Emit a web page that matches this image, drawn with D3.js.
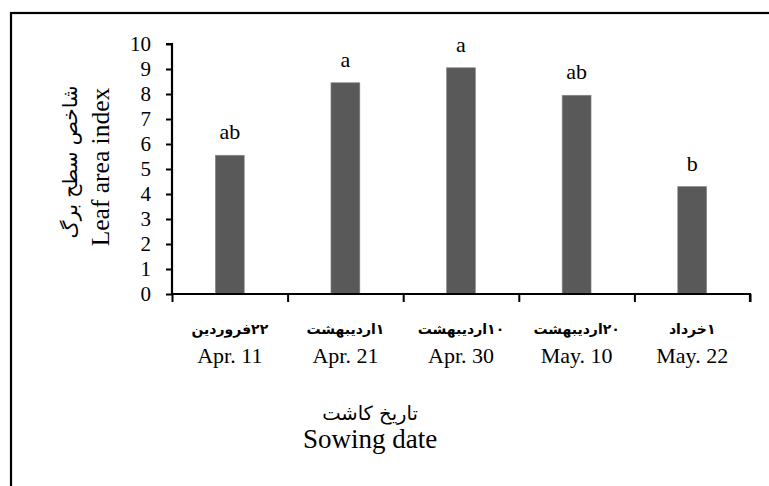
<!DOCTYPE html>
<html>
<head>
<meta charset="utf-8">
<script src="https://cdn.jsdelivr.net/npm/d3@7"></script>
<style>
  html, body { margin: 0; padding: 0; background: #fff; }
  svg { display: block; }
</style>
</head>
<body>
<svg id="chart" width="769" height="486"></svg>
<script>
// ---- data ----
const categoriesFa = ["۲۲فروردین", "۱اردیبهشت", "۱۰اردیبهشت", "۲۰اردیبهشت", "۱خرداد"];
const categoriesEn = ["Apr. 11", "Apr. 21", "Apr. 30", "May. 10", "May. 22"];
const values = [5.55, 8.45, 9.05, 7.95, 4.3];
const letters = ["ab", "a", "a", "ab", "b"];
const yTicks = [0, 1, 2, 3, 4, 5, 6, 7, 8, 9, 10];
const yTitleFa = "شاخص سطح برگ";
const yTitleEn = "Leaf area index";
const xTitleFa = "تاریخ کاشت";
const xTitleEn = "Sowing date";

(function () {
const svg = d3.select("#chart");
const serif = "'Liberation Serif', 'Times New Roman', serif";
const faFont = "'DejaVu Sans', sans-serif";

// frame
svg.append("rect")
  .attr("x", 11).attr("y", 13).attr("width", 800).attr("height", 520)
  .attr("fill", "none").attr("stroke", "#000").attr("stroke-width", 2.2);

const pLeft = 172, pRight = 750, pTop = 44, pBottom = 294;

const x = d3.scaleBand().domain(categoriesEn).range([pLeft, pRight])
  .paddingInner(0.75).paddingOuter(0.375);
const xb = d3.scaleLinear().domain([0, categoriesEn.length]).range([pLeft, pRight]);
const y = d3.scaleLinear().domain([0, 10]).range([pBottom, pTop]);

// bars
svg.append("g").selectAll("rect").data(values).join("rect")
  .attr("x", (d, i) => x(categoriesEn[i]))
  .attr("width", x.bandwidth())
  .attr("y", d => y(d))
  .attr("height", d => y(0) - y(d))
  .attr("fill", "#595959")
  .attr("stroke", "#8a8a8a").attr("stroke-width", 0.6);

// letters
svg.append("g").selectAll("text").data(values).join("text")
  .attr("x", (d, i) => x(categoriesEn[i]) + x.bandwidth() / 2)
  .attr("y", d => y(d) - 16)
  .attr("text-anchor", "middle")
  .attr("font-family", serif).attr("font-size", 22)
  .text((d, i) => letters[i]);

// y axis
const yAxis = svg.append("g").attr("transform", `translate(${pLeft},0)`)
  .call(d3.axisLeft(y).tickValues(yTicks).tickSize(6).tickPadding(15).tickFormat(d3.format("d")));
yAxis.select(".domain").attr("stroke-width", 2.2).attr("d", `M-6,${pTop}H0V${pBottom}`);
yAxis.selectAll(".tick line").attr("stroke-width", 2);
yAxis.selectAll(".tick text").attr("font-family", serif).attr("font-size", 21).attr("fill", "#000");

// x axis
const xAxis = svg.append("g").attr("transform", `translate(0,${pBottom})`)
  .call(d3.axisBottom(xb).tickValues(d3.range(0, categoriesEn.length + 1)).tickSize(8).tickFormat(""));
xAxis.select(".domain").attr("stroke-width", 2.2).attr("d", `M${pLeft},0H${pRight}V8`);
xAxis.selectAll(".tick line").attr("stroke-width", 2);

// category labels
svg.append("g").selectAll("text").data(categoriesFa).join("text")
  .attr("x", (d, i) => x(categoriesEn[i]) + x.bandwidth() / 2)
  .attr("y", 334)
  .attr("text-anchor", "middle")
  .attr("direction", "rtl")
  .attr("font-family", faFont).attr("font-weight", "bold").attr("font-size", 14)
  .text(d => d);

svg.append("g").selectAll("text").data(categoriesEn).join("text")
  .attr("x", d => x(d) + x.bandwidth() / 2)
  .attr("y", 363)
  .attr("text-anchor", "middle")
  .attr("font-family", serif).attr("font-size", 22)
  .text(d => d);

// x titles
svg.append("text").attr("x", 370).attr("y", 420)
  .attr("text-anchor", "middle").attr("direction", "rtl")
  .attr("font-family", faFont).attr("font-size", 19.5)
  .text(xTitleFa);
svg.append("text").attr("x", 370).attr("y", 448)
  .attr("text-anchor", "middle")
  .attr("font-family", serif).attr("font-size", 27)
  .text(xTitleEn);

// y titles
svg.append("text")
  .attr("transform", `translate(77,${(pTop + pBottom) / 2 - 7}) rotate(-90)`)
  .attr("text-anchor", "middle").attr("direction", "rtl")
  .attr("font-family", faFont).attr("font-size", 20)
  .text(yTitleFa);
svg.append("text")
  .attr("transform", `translate(109,${(pTop + pBottom) / 2 - 2}) rotate(-90)`)
  .attr("text-anchor", "middle")
  .attr("font-family", serif).attr("font-size", 25.5)
  .text(yTitleEn);
})();
</script>
</body>
</html>
